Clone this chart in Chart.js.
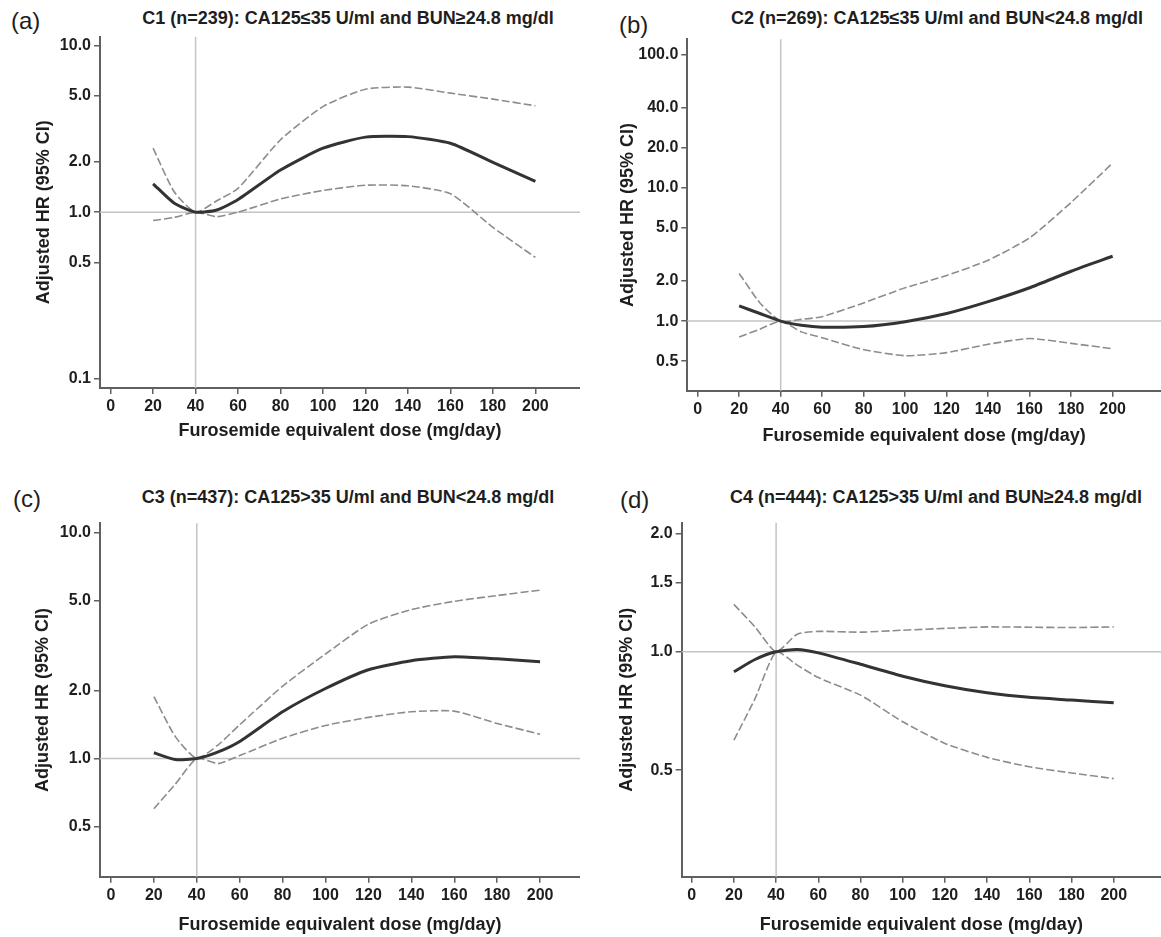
<!DOCTYPE html>
<html>
<head>
<meta charset="utf-8">
<title>Adjusted HR vs furosemide dose</title>
<script src="https://cdn.jsdelivr.net/npm/chart.js@4.4.1/dist/chart.umd.min.js"></script>
<style>
  html, body { margin: 0; padding: 0; background: #fff; overflow: hidden; }
  body { width: 1161px; height: 937px; position: relative; font-family: "Liberation Sans", Arial, sans-serif; color: #1e1e1e; }
  canvas { position: absolute; }
  .tag { position: absolute; font-size: 24px; line-height: 28px; transform: translateY(-50%); }
  .ttl { position: absolute; font-size: 18px; font-weight: bold; line-height: 22px; white-space: nowrap; transform: translate(-50%, -50%); }
</style>
</head>
<body>

<div class="tag" style="left:11px; top:21px">(a)</div>
<div class="ttl" style="left:348px; top:18px">C1 (n=239): CA125≤35 U/ml and BUN≥24.8 mg/dl</div>
<div class="tag" style="left:619px; top:25px">(b)</div>
<div class="ttl" style="left:937px; top:18px">C2 (n=269): CA125≤35 U/ml and BUN&lt;24.8 mg/dl</div>
<div class="tag" style="left:13px; top:499px">(c)</div>
<div class="ttl" style="left:348px; top:497px">C3 (n=437): CA125&gt;35 U/ml and BUN&lt;24.8 mg/dl</div>
<div class="tag" style="left:620px; top:500px">(d)</div>
<div class="ttl" style="left:936px; top:497px">C4 (n=444): CA125&gt;35 U/ml and BUN≥24.8 mg/dl</div>

<canvas id="chartC1" width="580" height="450" style="left:0; top:0"></canvas>
<canvas id="chartC2" width="581" height="450" style="left:580px; top:0"></canvas>
<canvas id="chartC3" width="580" height="477" style="left:0; top:460px"></canvas>
<canvas id="chartC4" width="581" height="477" style="left:580px; top:460px"></canvas>

<script>
// furosemide doses (mg/day) where the curves were read
const doses = [20, 30, 40, 50, 60, 80, 100, 120, 140, 160, 180, 200];
const xTicks = [0, 20, 40, 60, 80, 100, 120, 140, 160, 180, 200];

// C1: CA125<=35 and BUN>=24.8
const c1Hr    = [1.48, 1.13, 1.0, 1.03, 1.19, 1.79, 2.42, 2.82, 2.84, 2.59, 1.99, 1.53];
const c1Upper = [2.42, 1.32, 1.0, 1.17, 1.39, 2.72, 4.30, 5.47, 5.63, 5.18, 4.77, 4.35];
const c1Lower = [0.89, 0.93, 1.0, 0.94, 1.00, 1.20, 1.35, 1.45, 1.44, 1.29, 0.81, 0.535];
const c1YTicks = [0.1, 0.5, 1, 2, 5, 10];

// C2: CA125<=35 and BUN<24.8
const c2Hr    = [1.30, 1.14, 1.0, 0.93, 0.90, 0.91, 0.99, 1.14, 1.40, 1.78, 2.37, 3.07];
const c2Upper = [2.28, 1.37, 1.0, 1.03, 1.08, 1.37, 1.78, 2.20, 2.87, 4.22, 7.8, 15.4];
const c2Lower = [0.76, 0.87, 1.0, 0.83, 0.75, 0.61, 0.55, 0.58, 0.67, 0.74, 0.68, 0.62];
const c2YTicks = [0.5, 1, 2, 5, 10, 20, 40, 100];

// C3: CA125>35 and BUN<24.8
const c3Hr    = [1.06, 0.99, 1.0, 1.07, 1.19, 1.61, 2.04, 2.47, 2.71, 2.82, 2.76, 2.68];
const c3Upper = [1.88, 1.25, 1.0, 1.15, 1.41, 2.09, 2.90, 3.93, 4.56, 4.96, 5.26, 5.56];
const c3Lower = [0.60, 0.77, 1.0, 0.95, 1.03, 1.23, 1.40, 1.52, 1.61, 1.62, 1.43, 1.28];
const c3YTicks = [0.5, 1, 2, 5, 10];

// C4: CA125>35 and BUN>=24.8
const c4Hr    = [0.89, 0.956, 1.0, 1.014, 0.994, 0.93, 0.867, 0.82, 0.787, 0.766, 0.754, 0.742];
const c4Upper = [1.32, 1.157, 1.0, 1.109, 1.127, 1.122, 1.135, 1.147, 1.157, 1.155, 1.153, 1.157];
const c4Lower = [0.596, 0.76, 1.0, 0.925, 0.86, 0.776, 0.664, 0.585, 0.539, 0.51, 0.492, 0.476];
const c4YTicks = [0.5, 1, 1.5, 2];

// reference dose and HR=1 lines
const refDose = 40;
const refHr = 1.0;

const xTitle = 'Furosemide equivalent dose (mg/day)';
const yTitle = 'Adjusted HR (95% CI)';

const fontFam = "'Liberation Sans', Arial, sans-serif";
Chart.defaults.color = '#1e1e1e';

// thin grey cross at dose 40 / HR 1
const refLines = {
  id: 'refLines',
  beforeDatasetsDraw(chart) {
    const {ctx, chartArea, scales} = chart;
    const px = scales.x.getPixelForValue(refDose);
    const py = scales.y.getPixelForValue(refHr);
    ctx.save();
    ctx.strokeStyle = '#c4c4c4';
    ctx.lineWidth = 1.5;
    ctx.beginPath();
    ctx.moveTo(px, chartArea.top);
    ctx.lineTo(px, chartArea.bottom);
    ctx.moveTo(chartArea.left, py);
    ctx.lineTo(chartArea.right, py);
    ctx.stroke();
    ctx.restore();
  }
};

function toPoints(vals) {
  return doses.map((d, i) => ({x: d, y: vals[i]}));
}

function makeChart(id, box, hr, lower, upper, yTicks) {
  var axisGrid = {display: true, drawOnChartArea: false, drawTicks: true, tickLength: 6, color: '#606060', lineWidth: 1.5};
  var axisBorder = {display: true, color: '#606060', width: 2};
  var tickFont = {family: fontFam, size: 16, weight: 'bold'};
  var titleFont = {family: fontFam, size: 18, weight: 'bold'};

  return new Chart(document.getElementById(id), {
    type: 'line',
    data: {
      datasets: [
        {data: toPoints(hr), borderColor: '#333333', borderWidth: 3, tension: 0.2, pointRadius: 0},
        {data: toPoints(upper), borderColor: '#8c8c8c', borderWidth: 1.6, borderDash: [8, 3], tension: 0.2, pointRadius: 0},
        {data: toPoints(lower), borderColor: '#8c8c8c', borderWidth: 1.6, borderDash: [8, 3], tension: 0.2, pointRadius: 0}
      ]
    },
    options: {
      responsive: false,
      animation: false,
      events: [],
      layout: {padding: {top: box.top, left: 0, right: 0, bottom: 0}},
      plugins: {legend: {display: false}, tooltip: {enabled: false}},
      scales: {
        x: {
          type: 'linear',
          min: box.xMin,
          max: box.xMax,
          afterBuildTicks: s => { s.ticks = xTicks.map(v => ({value: v})); },
          afterFit: s => { s.height = box.xh; },
          grid: axisGrid,
          border: axisBorder,
          ticks: {autoSkip: false, maxRotation: 0, padding: 3, font: tickFont, callback: v => String(v)},
          title: {display: true, text: xTitle, font: titleFont, padding: {top: 0, bottom: box.xtp}}
        },
        y: {
          type: 'logarithmic',
          min: box.yMin,
          max: box.yMax,
          afterBuildTicks: s => { s.ticks = yTicks.map(v => ({value: v})); },
          afterFit: s => { s.width = box.yw; },
          grid: axisGrid,
          border: axisBorder,
          ticks: {autoSkip: false, padding: 3, font: tickFont, callback: v => Number(v).toFixed(1)},
          title: {display: true, text: yTitle, font: titleFont, padding: {top: box.ytp, bottom: 0}}
        }
      }
    },
    plugins: [refLines]
  });
}

makeChart('chartC1', {top: 36.7, yw: 100, xh: 62, ytp: 33, xtp: 8, xMin: -5, xMax: 221, yMin: 0.088, yMax: 11.3},
  c1Hr, c1Lower, c1Upper, c1YTicks);
makeChart('chartC2', {top: 39.3, yw: 107.3, xh: 59.3, ytp: 37, xtp: 3, xMin: -5, xMax: 223.3, yMin: 0.303, yMax: 131},
  c2Hr, c2Lower, c2Upper, c2YTicks);
makeChart('chartC3', {top: 63.3, yw: 100, xh: 60.3, ytp: 32, xtp: 1, xMin: -5.1, xMax: 218.6, yMin: 0.327, yMax: 10.98},
  c3Hr, c3Lower, c3Upper, c3YTicks);
makeChart('chartC4', {top: 62.7, yw: 101.7, xh: 60.3, ytp: 36, xtp: 1, xMin: -4.74, xMax: 222.4, yMin: 0.268, yMax: 2.13},
  c4Hr, c4Lower, c4Upper, c4YTicks);
</script>
</body>
</html>
